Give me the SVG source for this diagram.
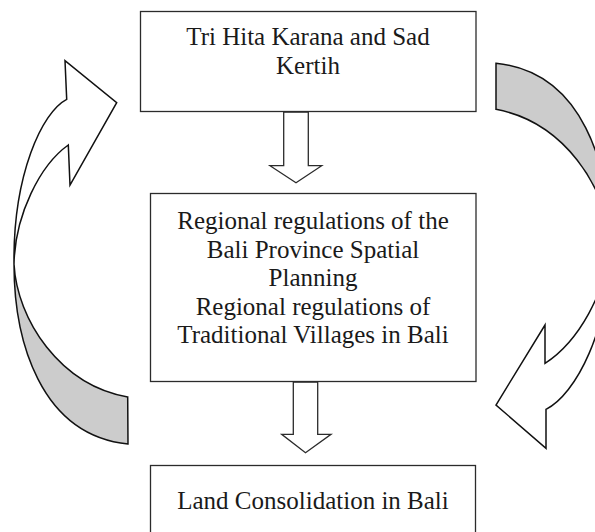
<svg xmlns="http://www.w3.org/2000/svg" width="595" height="532" viewBox="0 0 595 532">
<style>
.box{fill:#ffffff;stroke:#2b2b2b;stroke-width:1.3}
.t{font-family:"Liberation Serif","Times New Roman",serif;font-size:25px;fill:#1a1a1a;text-anchor:middle}
.arr{fill:#ffffff;stroke:#111111;stroke-width:1.5;stroke-linejoin:miter}
.back{fill:#cccccc;stroke:#111111;stroke-width:1.5;stroke-linejoin:miter}
.down{fill:#ffffff;stroke:#2b2b2b;stroke-width:1.3;stroke-linejoin:miter}
</style>
<rect x="0" y="0" width="595" height="532" fill="#ffffff"/>
<g id="connectors">
  <g id="loop-left">
    <path class="back" d="M14,264 C14,340 40,435 128,444 L127.7,397 C60,385 17,320 14,264 Z"/>
    <path class="arr" d="M66.7,99.3 L65,60.7 L116.7,102.7 L70,185 L68.3,145 C40,165 15,215 14,264 C13,175 42,112 66.7,99.3 Z"/>
  </g>
  <g id="loop-right">
    <path class="back" d="M496,63.3 C583.7,72 609.7,167 609.7,243 C606.7,187 563.7,122 496,109.3 Z"/>
    <path class="arr" d="M546,409.3 L546,448.3 L496,405 L545,325 L545,363.3 C578,342 607,292 609.7,243 C610.7,330 575,395 546,409.3 Z"/>
  </g>
  <path id="down-1" class="down" d="M283.7,112 L308.3,112 L308.3,165.7 L321.7,165.7 L296,182.7 L270,165.7 L283.7,165.7 Z"/>
  <path id="down-2" class="down" d="M293.3,382 L317.7,382 L317.7,434.3 L331,434.3 L305.5,452.7 L281.7,434.3 L293.3,434.3 Z"/>
</g>
<g id="node-tri-hita-karana">
  <rect class="box" x="140.5" y="11.5" width="335.5" height="100"/>
  <text class="t" x="308" y="44.5">Tri Hita Karana and Sad</text>
  <text class="t" x="308" y="74">Kertih</text>
</g>
<g id="node-regulations">
  <rect class="box" x="150.5" y="193.5" width="325.5" height="188"/>
  <text class="t" x="313" y="229">Regional regulations of the</text>
  <text class="t" x="313" y="257.5">Bali Province Spatial</text>
  <text class="t" x="313" y="286">Planning</text>
  <text class="t" x="313" y="314.5">Regional regulations of</text>
  <text class="t" x="313" y="343">Traditional Villages in Bali</text>
</g>
<g id="node-land-consolidation">
  <rect class="box" x="150.5" y="465.5" width="325" height="90"/>
  <text class="t" x="313" y="508.5">Land Consolidation in Bali</text>
</g>
</svg>
